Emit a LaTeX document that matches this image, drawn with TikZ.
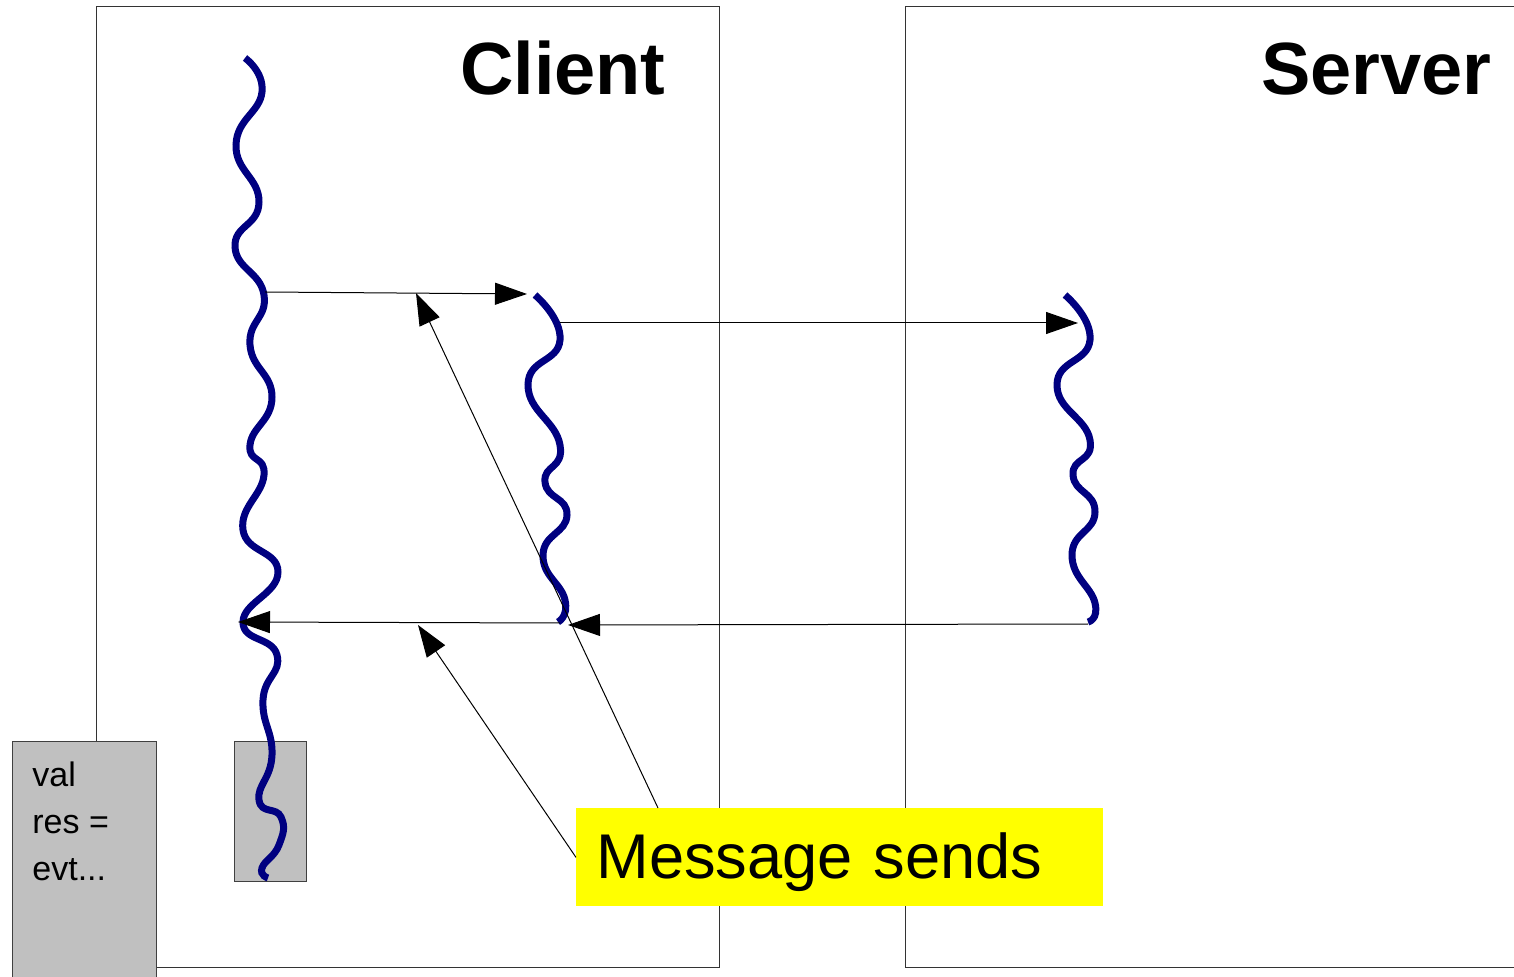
\documentclass[tikz,border=0pt]{standalone}
\usepackage{fontspec}
\setmainfont{Liberation Sans}
\usepackage{tikz}
\usetikzlibrary{calc, arrows, shapes, arrows.meta}
\definecolor{threadblue}{RGB}{0,0,128}
\definecolor{boxgray}{RGB}{192,192,192}
\definecolor{noteyellow}{RGB}{255,255,0}
\tikzset{>={Triangle[length=16pt,width=11pt]}}
\tikzset{
frame/.style={draw=black!80, line width=0.5pt},
membox/.style={draw=black!75, fill=boxgray, line width=0.5pt},
thread/.style={draw=threadblue, line width=3.5pt},
msg/.style={->, line width=0.5pt},
title/.style={font=\bfseries\fontsize{37}{40}\selectfont, inner sep=0, anchor=base east}
}

\begin{document}
\begin{tikzpicture}[x=0.5pt,y=-0.5pt]
\useasboundingbox (0,0) rectangle (1514,977);
\clip (0,0) rectangle (1514,977);

% the two processes
\draw[frame] (96,7) rectangle (719,967);
\draw[frame] (905,7) rectangle (1540,967);
\node[title] (client) at (666,95) {Client};
\node[title] (server) at (1492,95) {Server};

% stored state and the blocked part of the thread
\draw[membox] (12,741) rectangle (156,1000);
\node[anchor=base west, align=left, inner sep=0,
  font=\fontsize{17}{23.5}\selectfont] (vals) at (32,880) {val\\res =\\evt...};
\draw[membox] (234,741) rectangle (306,881);

% threads
\draw[thread] plot[smooth, tension=0.85] coordinates {
(245,58) (262,92) (236,145) (259,202) (235,247) (264,295)
(250,345) (272,397) (250,445) (264,475) (243,530) (278,572)
(243,622) (277,655) (263,700) (272,755) (259,800) (281,817)
(279,845) (262,868) (268,878)};
\draw[thread] plot[smooth, tension=0.9] coordinates {
(535,295) (560,340) (528,385) (560,445) (545,482) (567,515)
(543,555) (565,600) (558,622)};
\draw[thread] plot[smooth, tension=0.9] coordinates {
(1065,295) (1090,340) (1057,385) (1090,440) (1073,475) (1095,512)
(1072,555) (1095,603) (1088,622)};

% end points on the threads
\coordinate (mainOut) at (265,292);
\coordinate (fwdIn) at (527,294);
\coordinate (fwdOut) at (560,323);
\coordinate (srvIn) at (1078,323);
\coordinate (srvOut) at (1088,624);
\coordinate (fwdBack) at (568,625);
\coordinate (fwdEnd) at (560,623);
\coordinate (mainIn) at (238,622);
\coordinate (sendA) at (416,293);
\coordinate (sendB) at (418,625);

% note
\node[fill=noteyellow, anchor=north west, minimum width=263.5pt, inner xsep=10pt,
  inner ysep=0, text width=243.5pt, text height=35pt, text depth=14pt,
  align=left, font=\fontsize{31.6}{36}\selectfont] (note) at (576,808) {Message sends};
\coordinate (noteTop) at ($(note.north west)+(82,0)$);

% messages
\path[msg]
(mainOut) edge (fwdIn)
(fwdOut) edge (srvIn)
(srvOut) edge (fwdBack)
(fwdEnd) edge (mainIn)
(noteTop) edge (sendA)
(note.west) edge (sendB)
;
\end{tikzpicture}
\end{document}
